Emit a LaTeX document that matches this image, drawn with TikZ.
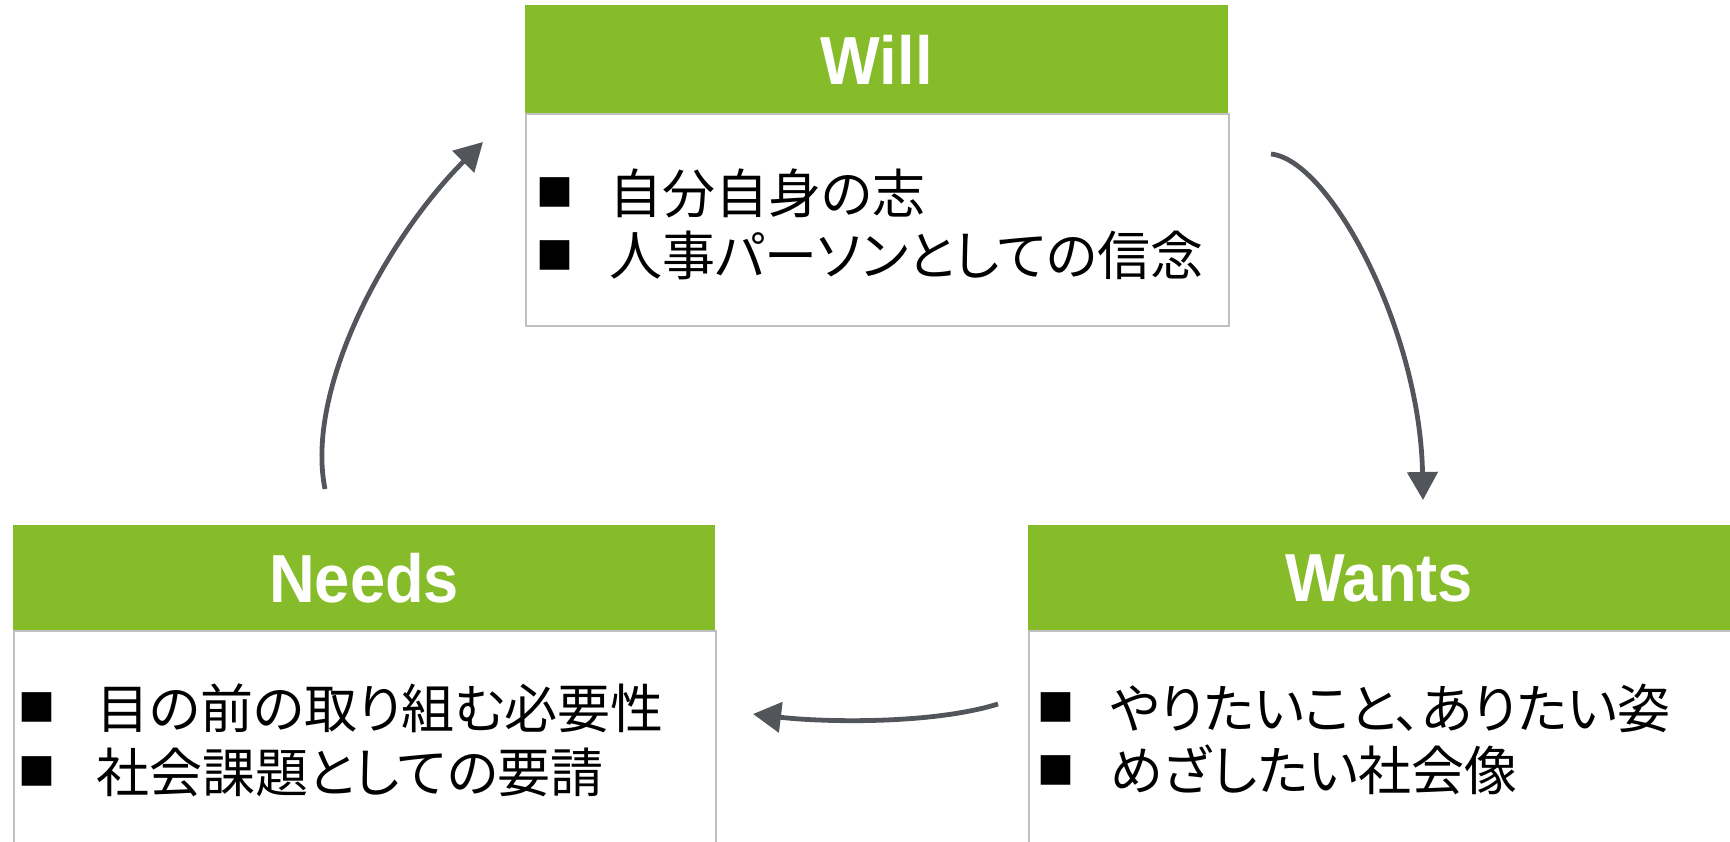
\documentclass[tikz,border=0pt]{standalone}
\usepackage{fontspec}
\setmainfont{Liberation Sans}
\newfontfamily\titlefont{Liberation Sans}[FakeStretch=0.93]
\newfontfamily\jp{Noto Sans CJK JP}[RawFeature=+palt]
\newfontfamily\jpbul{Noto Sans CJK JP}
\usetikzlibrary{arrows.meta}
\definecolor{hdrgreen}{RGB}{134,188,41}
\definecolor{boxgray}{RGB}{192,192,192}
\definecolor{arrowgray}{RGB}{82,86,91}
\tikzset{
  hdr/.style={fill=hdrgreen, draw=none, inner sep=0pt, text=white, anchor=north west,
    font=\titlefont\bfseries\fontsize{68}{68}\selectfont},
  bodybox/.style={draw=boxgray, line width=2pt, fill=white, anchor=north west, inner sep=0pt},
  bul/.style={font=\jpbul\fontsize{37}{37}\selectfont, inner sep=0pt},
  item/.style={font=\jp\fontsize{53}{53}\selectfont, inner sep=0pt, anchor=west},
  flow/.style={draw=arrowgray, line width=4.8pt, -{Triangle[width=30pt,length=28pt]}}
}
\begin{document}
\begin{tikzpicture}[x=1pt,y=-1pt]
\useasboundingbox (0,0) rectangle (1730,841);
% Will
\node[hdr, minimum width=703pt, minimum height=109pt] (willh) at (525,5) {Will};
\node[bodybox, minimum width=703pt, minimum height=212pt] (willb) at (525,113) {};
\node[bul] (wb1) at (554.5,192.5) {■};
\node[bul] (wb2) at (554.5,255) {■};
\node[item] (wl1) at (609,193) {自分自身の志};
\node[item] (wl2) at (609,255) {人事パーソンとしての信念};
% Needs
\node[hdr, minimum width=702pt, minimum height=106pt] (needsh) at (13,525) {Needs};
\node[bodybox, minimum width=702pt, minimum height=260pt] (needsb) at (13,630) {};
\node[bul] (nb1) at (37.5,707) {■};
\node[bul] (nb2) at (37.5,771) {■};
\node[item] (nl1) at (96,708) {目の前の取り組む必要性};
\node[item] (nl2) at (96,772) {社会課題としての要請};
% Wants
\node[hdr, minimum width=702pt, minimum height=106pt] (wantsh) at (1028,525) {Wants};
\node[bodybox, minimum width=712pt, minimum height=260pt] (wantsb) at (1028,630) {};
\node[bul] (ab1) at (1056,707) {■};
\node[bul] (ab2) at (1056,770) {■};
\node[item] (al1) at (1110,708) {やりたいこと、ありたい姿};
\node[item] (al2) at (1110,770) {めざしたい社会像};
% arrows
\coordinate (n2w) at (325,489);
\coordinate (w2in) at (483,142);
\coordinate (w2out) at (1271,154);
\coordinate (a2in) at (1423,500);
\coordinate (a2out) at (998,704);
\coordinate (n2in) at (753,714);
\draw[flow] (n2w) .. controls (305,390) and (385,240) .. (w2in);
\draw[flow] (w2out) .. controls (1330,160) and (1420,330) .. (a2in);
\draw[flow] (a2out) .. controls (930,725) and (820,722) .. (n2in);
\end{tikzpicture}
\end{document}
